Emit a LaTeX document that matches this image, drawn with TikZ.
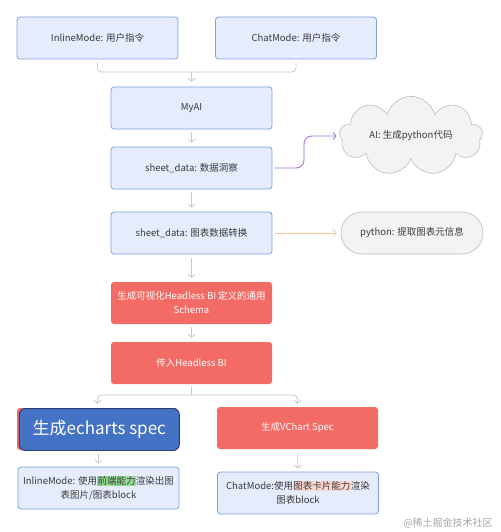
\documentclass[tikz,border=0pt]{standalone}
\usepackage{fontspec}
\setmainfont{Noto Sans CJK SC}
\usetikzlibrary{shapes.symbols,arrows.meta}
\definecolor{boxblue}{HTML}{E5EDFC}
\definecolor{boxline}{HTML}{7F9EE4}
\definecolor{boxred}{HTML}{F36B65}
\definecolor{specblue}{HTML}{4472C4}
\definecolor{specline}{HTML}{2C3E6E}
\definecolor{boxgrey}{HTML}{F3F3F3}
\definecolor{greyline}{HTML}{BDBDBD}
\definecolor{connline}{HTML}{C9C9C9}
\definecolor{ailine}{HTML}{9B6DD6}
\definecolor{pyline}{HTML}{F3C693}
\definecolor{hlgreen}{HTML}{92DC92}
\definecolor{hlpink}{HTML}{FAD4D0}
\definecolor{textgrey}{HTML}{3A3A3A}
\tikzset{
    bluebox/.style ={
        shape=rectangle,
        rounded corners=3pt,
        draw=boxline,
        fill=boxblue,
        text=textgrey,
        line width=0.8pt,
        align=center,
        inner xsep=2pt,
        minimum width=161pt,
        minimum height=42pt,
        font=\fontsize{9.5pt}{14pt}\selectfont
    },
    redbox/.style ={
        shape=rectangle,
        rounded corners=3pt,
        fill=boxred,
        text=white,
        align=center,
        inner xsep=2pt,
        minimum width=161pt,
        minimum height=42pt,
        font=\fontsize{9.5pt}{14pt}\selectfont
    },
    specbox/.style ={
        shape=rectangle,
        rounded corners=6pt,
        draw=specline,
        fill=specblue,
        text=white,
        line width=0.9pt,
        minimum width=160pt,
        minimum height=42pt,
        font=\fontsize{17pt}{20pt}\selectfont
    },
    greybox/.style ={
        shape=rectangle,
        rounded corners=21pt,
        draw=greyline,
        fill=boxgrey,
        text=textgrey,
        line width=0.6pt,
        minimum width=142pt,
        minimum height=42pt,
        font=\fontsize{9.5pt}{14pt}\selectfont
    },
    cloudbox/.style ={
        shape=cloud,
        cloud puffs=9,
        aspect=2.6,
        draw=greyline,
        fill=boxgrey,
        text=textgrey,
        line width=0.6pt,
        minimum width=143pt,
        minimum height=54pt,
        font=\fontsize{9.5pt}{14pt}\selectfont
    },
    conn/.style ={
        draw=connline,
        line width=0.8pt,
        rounded corners=4pt
    },
    arrow/.style ={
        conn,
        -{Straight Barb[length=3pt,width=7pt]}
    }
}
\newcommand{\hlg}[1]{{\setlength{\fboxsep}{0.4pt}\colorbox{hlgreen}{#1}}}
\newcommand{\hlp}[1]{{\setlength{\fboxsep}{0.4pt}\colorbox{hlpink}{#1}}}

\begin{document}
\begin{tikzpicture}[x=1pt,y=-1pt]
    \useasboundingbox[fill=white] (0,0) rectangle (500,532);
    \node[bluebox] (inl) at(97.5,38) {InlineMode: 用户指令};
    \node[bluebox] (chat) at(296,38) {ChatMode: 用户指令};
    \node[bluebox] (myai) at(191.5,108) {MyAI};
    \node[bluebox] (sd1) at(191.5,168) {sheet\_data: 数据洞察};
    \node[bluebox] (sd2) at(191.5,233) {sheet\_data: 图表数据转换};
    \node[cloudbox] (ai) at(411,136) {AI: 生成python代码};
    \node[greybox] (py) at(412,233) {python: 提取图表元信息};
    \node[redbox] (sch) at(191.5,303) {生成可视化Headless BI 定义的通用\\Schema};
    \node[redbox] (hb) at(191.5,363) {传入Headless BI};
    \node[redbox] (ecred) at(97.5,429) {};
    \node[specbox] (ec) at(99.3,429.5) {生成echarts spec};
    \node[redbox] (vc) at(297.5,428) {生成VChart Spec};
    \node[bluebox] (inl2) at(98.5,488) {InlineMode: 使用\hlg{前端能力}渲染出图\\表图片/图表block};
    \node[bluebox] (chat2) at(298,493) {ChatMode:使用\hlp{图表卡片能力}渲染\\图表block};
    \node[text=gray!70,font=\fontsize{10pt}{12pt}\selectfont] (wm) at(448,523) {@稀土掘金技术社区};
    \coordinate (m1) at(191.5,72);
    \coordinate (m2) at(191.5,395);
    \coordinate (bend) at(304,150);
    % top merge
    \draw[conn,shorten <=3pt] (inl.south) |- (m1);
    \draw[conn,shorten <=3pt] (chat.south) |- (m1);
    \draw[arrow,shorten >=5pt] (m1) -- (myai.north);
    % main column
    \draw[arrow,shorten <=3pt,shorten >=4pt] (myai) -- (sd1);
    \draw[arrow,shorten <=3pt,shorten >=4pt] (sd1) -- (sd2);
    \draw[arrow,shorten <=4pt,shorten >=4pt] (sd2) -- (sch);
    \draw[arrow,shorten <=3pt,shorten >=4pt] (sch) -- (hb);
    % side branches
    \draw[arrow,draw=ailine,rounded corners=8pt,shorten <=2pt,shorten >=3pt] (sd1.east) -| (bend) |- (ai.west);
    \draw[arrow,draw=pyline,shorten <=3pt,shorten >=4pt] (sd2.east) -- (py.west);
    % split
    \draw[conn,shorten <=3pt] (hb.south) -- (m2);
    \draw[arrow,shorten >=4pt] (m2) -| (ecred.north);
    \draw[arrow,shorten >=3pt] (m2) -| (vc.north);
    \draw[arrow,shorten <=3pt,shorten >=3pt] (ec.south -| inl2.north) -- (inl2.north);
    \draw[arrow,shorten <=4pt,shorten >=3pt] (vc) -- (chat2);
\end{tikzpicture}
\end{document}
